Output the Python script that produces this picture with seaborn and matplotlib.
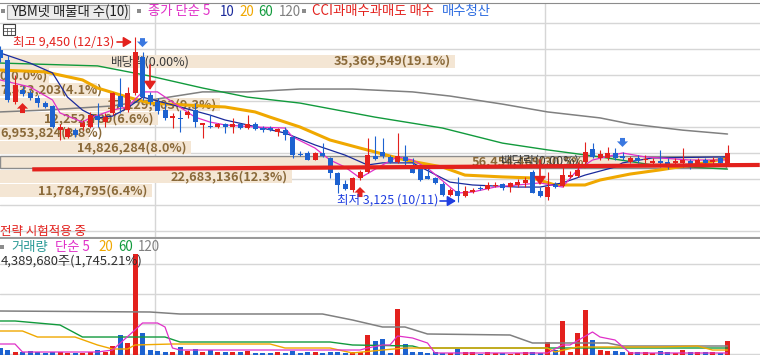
import numpy as np
import pandas as pd
import seaborn as sns
import matplotlib
matplotlib.use("Agg")
from matplotlib import pyplot as plt
from matplotlib.patches import Rectangle

# ---- daily candles (won) ----
opens = [8960, 8580, 6960, 7420, 7310, 7120, 6920, 6810, 5880, 5620,
         5880, 6000, 6000, 6420, 6190, 6540, 7190, 6650, 7310, 8690,
         7230, 6960, 6650, 6350, 6350, 6460, 6650, 6080, 6040, 6000,
         6120, 6000, 6120, 5960, 6120, 5960, 5960, 5810, 5880, 5620,
         4960, 5000, 4730, 5000, 4810, 4230, 3810, 3580, 4040, 4270,
         4880, 5040, 4850, 4650, 4850, 4420, 4420, 4120, 4040, 3810,
         3380, 3540, 3350, 3500, 3650, 3620, 3730, 3810, 3690, 3770,
         3850, 4270, 3540, 3310, 3770, 3730, 4080, 4120, 4650, 5150,
         4810, 4810, 5000, 4880, 4650, 4810, 4730, 4620, 4690, 4650,
         4620, 4620, 4690, 4580, 4730, 4650, 4810, 4580]
highs = [9120, 8770, 8000, 7580, 7420, 7230, 7000, 6850, 6120, 6000,
         5960, 6270, 6580, 6920, 6540, 7350, 7880, 7540, 9450, 8880,
         7350, 7120, 6920, 6540, 6650, 6650, 6920, 6150, 6460, 6150,
         6150, 6350, 6150, 6460, 6190, 6040, 6040, 5960, 6000, 5650,
         5080, 5080, 5040, 5380, 4850, 4270, 3960, 4080, 4350, 5580,
         5650, 5580, 4920, 5770, 5310, 4810, 4460, 4460, 4080, 3880,
         3650, 4080, 3730, 3650, 3730, 3880, 3880, 3850, 3880, 4000,
         4080, 4350, 3690, 4270, 3880, 4540, 4310, 4650, 5420, 5380,
         5120, 5230, 5190, 5040, 4880, 4920, 4920, 4810, 5120, 4810,
         4810, 5190, 4770, 4810, 4810, 4850, 4880, 5310]
lows = [8500, 6960, 6880, 7190, 7040, 6770, 6730, 5960, 5500, 5580,
        5620, 5880, 5960, 6000, 6000, 6460, 6540, 6580, 7230, 7040,
        6850, 6500, 6270, 5960, 5810, 6350, 6000, 5580, 5960, 5960,
        5770, 5770, 5920, 5920, 5880, 5810, 5850, 5650, 5500, 4810,
        4880, 4730, 4730, 4850, 4040, 3460, 3580, 3500, 3960, 4230,
        4730, 4810, 4620, 4620, 4540, 4230, 3920, 4000, 3810, 3350,
        3350, 3125, 3310, 3460, 3580, 3580, 3690, 3580, 3500, 3690,
        3690, 3460, 3310, 3190, 3650, 3690, 4040, 4080, 4540, 4810,
        4730, 4730, 4730, 4730, 4620, 4620, 4620, 4580, 4460, 4380,
        4540, 4460, 4380, 4540, 4540, 4580, 4540, 4540]
closes = [8650, 7040, 7620, 7270, 7120, 6920, 6770, 6000, 6000, 5920,
          5690, 6150, 6460, 6270, 6380, 7310, 6770, 7310, 8880, 7150,
          6960, 6620, 6350, 6420, 6310, 6580, 6190, 6150, 6000, 6120,
          6000, 6120, 5960, 6120, 5920, 5880, 5880, 5920, 5690, 4920,
          4920, 4730, 5000, 4880, 4230, 3770, 3620, 4040, 4270, 4920,
          4770, 4880, 4650, 4880, 4690, 4230, 3960, 4000, 3850, 3380,
          3580, 3350, 3540, 3580, 3620, 3770, 3770, 3650, 3850, 3880,
          3960, 3460, 3350, 3690, 3690, 4150, 4150, 4350, 5040, 4850,
          4960, 5000, 4810, 4810, 4810, 4690, 4770, 4690, 4620, 4540,
          4690, 4730, 4580, 4730, 4620, 4730, 4620, 5000]
volumes = [304000, 217000, 152000, 109000, 174000, 109000, 87000, 152000, 130000, 87000,
           87000, 87000, 152000, 217000, 109000, 391000, 869000, 522000, 4389680, 956000,
           217000, 174000, 130000, 130000, 348000, 174000, 261000, 152000, 196000, 109000,
           109000, 130000, 109000, 174000, 87000, 87000, 87000, 109000, 87000, 174000,
           87000, 109000, 109000, 87000, 109000, 109000, 87000, 109000, 152000, 869000,
           608000, 695000, 87000, 1999000, 478000, 130000, 130000, 87000, 152000, 87000,
           87000, 261000, 109000, 109000, 43000, 130000, 87000, 87000, 43000, 87000,
           130000, 130000, 87000, 565000, 217000, 1478000, 130000, 956000, 1956000, 652000,
           217000, 174000, 174000, 130000, 109000, 109000, 109000, 87000, 174000, 109000,
           87000, 239000, 109000, 130000, 130000, 109000, 87000, 608000]

# ---- price moving averages (candle index, won) ----
ma5_idx = [0, 4, 7, 8, 11, 12, 15, 17, 19, 21, 23, 26, 28, 30, 34, 38, 39, 42, 44, 46,
           48, 51, 53, 55, 57, 60, 61, 63, 66, 69, 72, 75, 77, 79, 83, 86, 92, 97]
ma5_val = [7810, 7540, 7040, 6540, 6190, 6350, 6650, 6770, 7350, 7350, 6960, 6380, 6190, 6080,
           6000, 5960, 5620, 5190, 4730, 4460, 4040, 4540, 4850, 4730, 4420, 3690, 3460, 3500,
           3690, 3770, 3850, 3690, 4350, 4730, 5000, 4850, 4730, 4730]
ma10_idx = [0, 4, 7, 9, 11, 13, 15, 17, 19, 23, 28, 30, 33, 38, 42, 46, 49, 51, 55, 60,
            63, 69, 72, 75, 78, 82, 83, 87, 97]
ma10_val = [8850, 8460, 8080, 7150, 6650, 6350, 6420, 6730, 7150, 6850, 6460, 6270, 6080, 5770,
            5310, 4920, 4540, 4620, 4620, 3880, 3770, 3690, 3690, 3850, 4150, 4460, 4620, 4810, 4850]
ma20_idx = [0, 6, 11, 13, 17, 20, 27, 30, 34, 36, 40, 44, 48, 50, 54, 59, 62, 67, 71, 74,
            78, 80, 84, 88, 94, 97]
ma20_val = [8190, 8120, 7810, 7500, 7150, 6920, 6810, 6770, 6580, 6380, 6000, 5500, 5190, 5040,
            4730, 4460, 4150, 4080, 4040, 3770, 3770, 3960, 4190, 4350, 4620, 4810]
ma60_idx = [0, 13, 20, 27, 33, 40, 50, 59, 67, 73, 80, 87, 97]
ma60_val = [8460, 8350, 7960, 7500, 7150, 6920, 6380, 5960, 5380, 5120, 4850, 4540, 4380]
ma120_idx = [0, 6, 15, 21, 27, 33, 40, 47, 55, 60, 67, 73, 80, 84, 91, 97]
ma120_val = [6580, 6650, 6810, 7080, 7350, 7350, 7460, 7460, 7350, 7190, 6880, 6580, 6350,
             6120, 5880, 5730]

# ---- volume moving averages (candle index, shares) ----
vma5_idx = [0, 2, 3, 13, 15, 18, 19, 21, 22, 23, 24, 48, 49, 51, 52, 53, 55, 57, 58, 60,
            73, 75, 76, 79, 80, 82, 84, 97]
vma5_val = [478000, 478000, 130000, 130000, 217000, 1087000, 1391000, 1391000, 1217000, 304000,
            217000, 217000, 304000, 435000, 435000, 826000, 739000, 522000, 87000, 87000,
            87000, 435000, 435000, 1000000, 782000, 652000, 87000, 87000]
vma20_idx = [0, 3, 5, 10, 13, 15, 17, 18, 23, 36, 38, 44, 47, 51, 54, 73, 74, 77, 88, 93, 95, 97]
vma20_val = [1043000, 1043000, 782000, 782000, 435000, 261000, 261000, 435000, 478000, 478000,
             304000, 304000, 87000, 217000, 304000, 304000, 130000, 348000, 348000, 391000,
             217000, 217000]
vma60_idx = [0, 2, 8, 11, 22, 24, 44, 47, 55, 56, 97]
vma60_val = [1478000, 1478000, 1304000, 782000, 782000, 565000, 565000, 435000, 391000,
             304000, 304000]
vma120_idx = [0, 20, 24, 43, 47, 51, 54, 57, 68, 71, 81, 83, 97]
vma120_val = [1912000, 1869000, 1782000, 1782000, 1521000, 1217000, 1217000, 913000, 869000,
              522000, 522000, 391000, 391000]

# ---- volume profile (매물대), bottom to top ----
band_vols = [11784795, 22683136, 56454469, 14826284, 6953824, 12252789, 17129403, 7533203, 0, 35369549]
band_pcts = [6.4, 12.3, 30.5, 8.0, 3.8, 6.6, 9.3, 4.1, 0.0, 19.1]
band_low, band_step = 3270, 554
current_band = 2

# ---- signals / events ----
buy_idx = [3, 48]
sell_idx = [20, 72]
exit_idx = [19, 83]
exdiv_idx = [20, 72]
exdiv_price = [8500, 4690]
trend_idx = [4.3, 101.3]
trend_val = [4370, 4540]
year_lines = [20.67, 72.67]

sns.set_style("white")
plt.rcParams['font.family'] = ['Noto Sans CJK KR', 'DejaVu Sans']
plt.rcParams['axes.unicode_minus'] = False

RED = '#e3211d'
BLUE = '#1d62d0'
MAGENTA = '#e030c8'
NAVY = '#1a2a9c'
ORANGE = '#f0a800'
GREEN = '#119a3c'
GRAY = '#808080'
BEIGE = '#f4e6d4'
BROWN = '#8a6a3a'
GRID = '#d6d6d6'

W, H = 760, 355
PX = 7.5
WON_PX = 1000 / 26
VOL_PX = 4389680 / 101


def price_at(y):
    return 10000 - (y - 23) * WON_PX


fig = plt.figure(figsize=(W / 100, H / 100), dpi=100)
ax = fig.add_axes([0, 1 - 238 / H, 1, 235 / H])
axv = fig.add_axes([0, 0, 1, 116 / H])
ov = fig.add_axes([0, 0, 1, 1])
renderer = fig.canvas.get_renderer()

df = pd.DataFrame(dict(o=opens, h=highs, l=lows, c=closes, v=volumes))
df['i'] = np.arange(len(df))
col = np.where(df.c >= df.o, RED, BLUE)

# price pane
ax.set_xlim(0, W / PX)
ax.set_ylim(price_at(238), price_at(3))
ax.set_yticks(np.arange(2000, 10001, 1000))
ax.yaxis.grid(True, color=GRID, lw=1)
ax.xaxis.grid(False)
ax.set_axisbelow(True)
for v in year_lines:
    ax.axvline(v, color=GRID, lw=1, zorder=0)
    axv.axvline(v, color=GRID, lw=1, zorder=0)

centers = band_low + band_step * (np.arange(len(band_vols)) + 0.5)
band_len = np.array(band_vols) / max(band_vols[-1], 1) * 455 / PX
ax.barh(centers, band_len, height=band_step - 1.5 * WON_PX, left=0, color=BEIGE, lw=0, zorder=1)
k = current_band
ax.add_patch(Rectangle((0, centers[k] - band_step / 2 + WON_PX), band_len[k], band_step - 2 * WON_PX,
                       fill=False, ec='#8c8c8c', lw=1, zorder=2))
for n, (c, L, v, p) in enumerate(zip(centers, band_len, band_vols, band_pcts)):
    lab = f"{v:,}({p:.1f}%)"
    kw = dict(va='center', fontsize=9.2, fontweight='bold', color=BROWN, zorder=2)
    if v == 0:
        ax.text(0, c, lab, ha='left', bbox=dict(fc=BEIGE, ec='none', pad=0.6), **kw)
    elif n == current_band:
        ax.text(472 / PX, c, lab, ha='left', **kw)
    else:
        t = ax.text(L - 0.6, c, lab, ha='right', **kw)
        if t.get_window_extent(renderer).x0 < 0:
            t.set_x(0)
            t.set_ha('left')
for i, p in zip(exdiv_idx, exdiv_price):
    ax.text(i, p, '배당락(0.00%)', ha='center', va='center', fontsize=9, color='#3a3a3a', zorder=2)

for idx, val, c, lw in [(ma120_idx, ma120_val, GRAY, 1.1), (ma60_idx, ma60_val, GREEN, 1.0),
                        (ma20_idx, ma20_val, ORANGE, 2.2), (ma10_idx, ma10_val, NAVY, 0.9),
                        (ma5_idx, ma5_val, MAGENTA, 0.9)]:
    sns.lineplot(x=idx, y=val, ax=ax, color=c, lw=lw, zorder=3, legend=False,
                 sort=False, estimator=None)

body_lo = np.minimum(df.o, df.c)
body_h = np.maximum((df.c - df.o).abs(), WON_PX)
ax.vlines(df.i, df.l, df.h, colors=col, lw=0.8, zorder=4)
ax.bar(df.i, body_h, bottom=body_lo, width=5 / PX, color=col, lw=0, zorder=4.1)
ax.plot(trend_idx, trend_val, color=RED, lw=3, zorder=5, solid_capstyle='butt')

for i in buy_idx:
    ax.annotate('', xy=(i, lows[i] - 7 * WON_PX), xytext=(0, -10), textcoords='offset pixels',
                arrowprops=dict(arrowstyle='simple,head_length=0.5,head_width=1.0,tail_width=0.45',
                                fc=RED, ec='none', mutation_scale=8, shrinkA=0, shrinkB=0), zorder=6)
for i in exit_idx:
    ax.annotate('', xy=(i, highs[i] + 5 * WON_PX), xytext=(0, 9), textcoords='offset pixels',
                arrowprops=dict(arrowstyle='simple,head_length=0.5,head_width=1.0,tail_width=0.45',
                                fc='#3a78e0', ec='none', mutation_scale=8, shrinkA=0, shrinkB=0), zorder=6)
for i in sell_idx:
    ax.annotate('', xy=(i, highs[i] + 2 * WON_PX), xytext=(0, 25), textcoords='offset pixels',
                arrowprops=dict(arrowstyle='-|>,head_length=0.5,head_width=0.35', color=RED,
                                lw=1.2, mutation_scale=10, shrinkA=0, shrinkB=0), zorder=6)

ax.tick_params(left=False, bottom=False, labelleft=False, labelbottom=False)
for s in ['left', 'right']:
    ax.spines[s].set_visible(False)
ax.spines['top'].set_color('#8c8c8c')
ax.spines['bottom'].set_color('#9a9a9a')
ax.spines['bottom'].set_linewidth(1.5)

# volume pane
axv.set_xlim(0, W / PX)
axv.set_ylim(0, 116 * VOL_PX)
axv.set_yticks((H - np.array([264, 294, 324, 354])) * VOL_PX)
axv.yaxis.grid(True, color=GRID, lw=1)
axv.xaxis.grid(False)
axv.set_axisbelow(True)
axv.bar(df.i, df.v, width=5 / PX, color=col, lw=0, zorder=2)
for idx, val, c, lw in [(vma120_idx, vma120_val, GRAY, 1.1), (vma60_idx, vma60_val, GREEN, 1.0),
                        (vma20_idx, vma20_val, ORANGE, 1.0), (vma5_idx, vma5_val, MAGENTA, 0.9)]:
    sns.lineplot(x=idx, y=val, ax=axv, color=c, lw=lw, zorder=3, legend=False,
                 sort=False, estimator=None)
axv.tick_params(left=False, bottom=False, labelleft=False, labelbottom=False)
for s in axv.spines.values():
    s.set_visible(False)

# overlay: headers and annotations in pixel coordinates
ov.set_xlim(0, W)
ov.set_ylim(H, 0)
ov.axis('off')
ov.patch.set_alpha(0)

for x, y in [(0.5, 9), (137, 9), (302, 9), (0, 245)]:
    ov.add_patch(Rectangle((x, y), 4, 4, fc='#8c8c8c', ec='none'))
ov.add_patch(Rectangle((7, 4.5), 122, 14, fc='#ececec', ec='#a0a0a0', lw=0.8))
ov.text(11, 11.5, 'YBM넷 매물대 수(10)', va='center', fontsize=9.6, color='#202020')
for x, t, c in [(148, '종가 단순 5', MAGENTA), (220, '10', NAVY), (239, '20', ORANGE),
                (258, '60', GREEN), (279, '120', GRAY), (312, 'CCI과매수과매도 매수', RED),
                (442, '매수청산', '#2a6ae0')]:
    ov.text(x, 11.5, t, va='center', fontsize=9.6, color=c)

ov.add_patch(Rectangle((3, 24), 12, 11, fill=False, ec='#404040', lw=0.8))
for yy in [27.5, 31]:
    ov.plot([3, 15], [yy, yy], color='#404040', lw=0.5)
for xx in [7, 11]:
    ov.plot([xx, xx], [27.5, 35], color='#404040', lw=0.5)

ov.text(13, 42, f'최고 {max(highs):,} (12/13)', va='center', fontsize=9, color=RED)
ov.annotate('', xy=(132, 42), xytext=(117, 42),
            arrowprops=dict(arrowstyle='-|>,head_length=0.5,head_width=0.3', color=RED, lw=1.2,
                            mutation_scale=10, shrinkA=0, shrinkB=0))
ov.text(337, 200, f'최저 {min(lows):,} (10/11)', va='center', fontsize=9, color='#1f3ee0')
ov.annotate('', xy=(456, 201), xytext=(440, 201),
            arrowprops=dict(arrowstyle='-|>,head_length=0.5,head_width=0.3', color='#1f3ee0', lw=1.2,
                            mutation_scale=10, shrinkA=0, shrinkB=0))
ov.text(0, 231, '전략 시험적용 중', va='center', fontsize=9, color=RED)

for x, t, c in [(11, '거래량', '#2a9a96'), (55, '단순 5', MAGENTA), (98, '20', ORANGE),
                (118, '60', GREEN), (138, '120', GRAY)]:
    ov.text(x, 247, t, va='center', fontsize=9.6, color=c)
ov.text(1, 261, f'{max(volumes):,}주(1,745.21%)', va='center', fontsize=9.4, color='#303030')

fig.savefig('out.png', dpi=100)
